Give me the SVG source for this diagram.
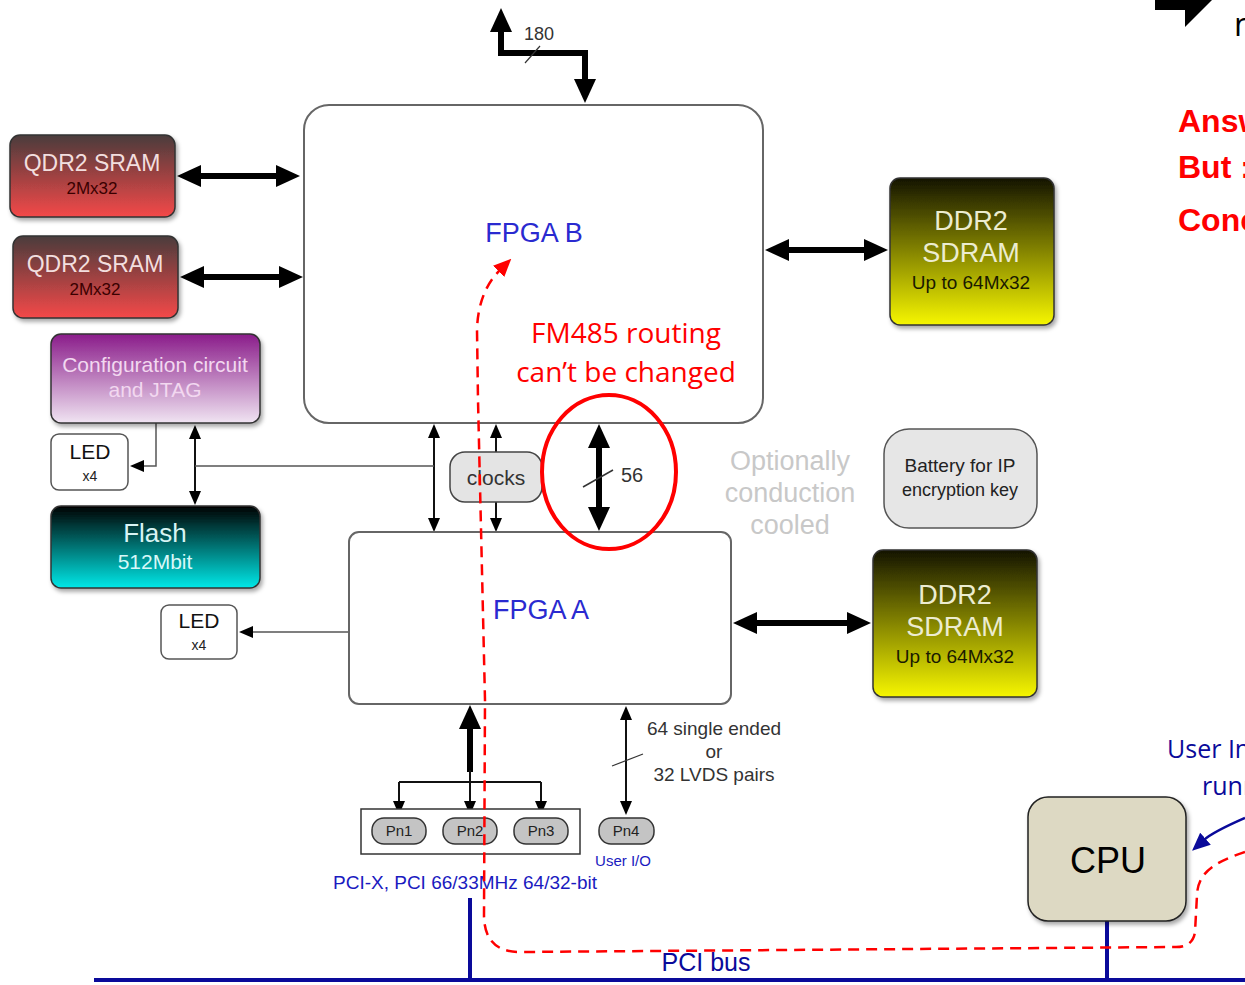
<svg xmlns="http://www.w3.org/2000/svg" width="1245" height="985" viewBox="0 0 1245 985">
<defs>
<linearGradient id="gQdr" x1="0" y1="0" x2="0" y2="1"><stop offset="0" stop-color="#4a3c3c"/><stop offset="1" stop-color="#f44848"/></linearGradient>
<linearGradient id="gCfg" x1="0" y1="0" x2="0" y2="1"><stop offset="0" stop-color="#8a1c8a"/><stop offset="1" stop-color="#f0e4f2"/></linearGradient>
<linearGradient id="gFlash" x1="0" y1="0" x2="0" y2="1"><stop offset="0" stop-color="#000000"/><stop offset="1" stop-color="#00e8e8"/></linearGradient>
<linearGradient id="gDdr" x1="0" y1="0" x2="0" y2="1"><stop offset="0" stop-color="#141400"/><stop offset="1" stop-color="#f6f600"/></linearGradient>
<filter id="sh" x="-10%" y="-10%" width="130%" height="130%"><feDropShadow dx="2" dy="3" stdDeviation="2" flood-color="#000" flood-opacity="0.35"/></filter>
<marker id="big" markerUnits="userSpaceOnUse" markerWidth="26" markerHeight="22" refX="2" refY="11" orient="auto-start-reverse"><path d="M0,0 L24,11 L0,22 z" fill="#000"/></marker>
<marker id="sm" markerUnits="userSpaceOnUse" markerWidth="14" markerHeight="12" refX="2" refY="6" orient="auto-start-reverse"><path d="M0,0 L14,6 L0,12 z" fill="#000"/></marker>
<marker id="red" markerUnits="userSpaceOnUse" markerWidth="18" markerHeight="16" refX="2" refY="8" orient="auto"><path d="M0,0 L18,8 L0,16 z" fill="#ff0000"/></marker>
<marker id="blue" markerUnits="userSpaceOnUse" markerWidth="18" markerHeight="16" refX="2" refY="8" orient="auto"><path d="M0,0 L18,8 L0,16 z" fill="#0a0a9a"/></marker>
<style>
text{font-family:"Liberation Sans",Arial,sans-serif;text-anchor:middle}
.fpga{fill:#fff;stroke:#666;stroke-width:2}
.blk{stroke:#333;stroke-width:1.5}
.thick{stroke:#000;stroke-width:6;fill:none}
.thin{stroke:#111;stroke-width:2;fill:none}
.gline{stroke:#555;stroke-width:1.5;fill:none}
.lt{fill:#f2dede;font-size:23px}
.dk{fill:#3a0000;font-size:17px}
.ledt{fill:#111;font-size:21px}
.small{fill:#222;font-size:14px}
.pn{fill:#c4c4c4;stroke:#333;stroke-width:1.5}
.pnt{fill:#222;font-size:15px}
.ann{fill:#ff0000;font-size:28px;font-family:"Open Sans","Liberation Sans",sans-serif}
.fp{fill:#2a2ad0;font-size:27px}
.bl{fill:#1a1ac0}
.gray{fill:#c8c8c8;font-size:27px}
.ddr1{fill:#ececd0;font-size:27px}
.ddr2{fill:#1a1a00;font-size:19px}
.bus{stroke:#0a0a9a;stroke-width:4;fill:none}
.rd{fill:#ff0000;font-size:32px;font-weight:bold;text-anchor:start}
.st{text-anchor:start;font-family:"Open Sans","Liberation Sans",sans-serif}
</style>
</defs>

<g id="connectors">
<path class="thick" d="M501,30 L501,53 L585,53 L585,81" marker-start="url(#big)" marker-end="url(#big)"/>
<line x1="525" y1="63" x2="540" y2="46" stroke="#333" stroke-width="1.2"/>
<line class="thick" x1="199" y1="176" x2="278" y2="176" marker-start="url(#big)" marker-end="url(#big)"/>
<line class="thick" x1="202" y1="277" x2="281" y2="277" marker-start="url(#big)" marker-end="url(#big)"/>
<line class="thick" x1="787" y1="250" x2="866" y2="250" marker-start="url(#big)" marker-end="url(#big)"/>
<line class="thick" x1="755" y1="623" x2="849" y2="623" marker-start="url(#big)" marker-end="url(#big)"/>
<line class="thick" x1="599" y1="446" x2="599" y2="509" marker-start="url(#big)" marker-end="url(#big)"/>
<line x1="583" y1="487" x2="613" y2="470" stroke="#333" stroke-width="1.5"/>
<line class="thin" x1="434" y1="436" x2="434" y2="520" marker-start="url(#sm)" marker-end="url(#sm)"/>
<path class="thin" d="M496,452 L496,436" marker-end="url(#sm)"/>
<path class="thin" d="M496,502 L496,520" marker-end="url(#sm)"/>
<line class="thin" x1="195" y1="437" x2="195" y2="493" marker-start="url(#sm)" marker-end="url(#sm)"/>
<line class="gline" x1="195" y1="466" x2="434" y2="466"/>
<path class="gline" d="M156,423 L156,466 L142,466" marker-end="url(#sm)"/>
<path class="gline" d="M349,632 L251,632" marker-end="url(#sm)"/>
<path class="thick" d="M470,772 L470,727" marker-end="url(#big)"/>
<path class="thin" d="M470,770 L470,803" marker-end="url(#sm)"/>
<path class="thin" d="M399,782 L541,782"/>
<path class="thin" d="M399,782 L399,803" marker-end="url(#sm)"/>
<path class="thin" d="M541,782 L541,803" marker-end="url(#sm)"/>
<line class="thin" x1="626" y1="718" x2="626" y2="803" marker-start="url(#sm)" marker-end="url(#sm)"/>
<line x1="612" y1="766" x2="643" y2="754" stroke="#333" stroke-width="1.2"/>
<line class="bus" x1="94" y1="980" x2="1245" y2="980"/>
<line class="bus" x1="470" y1="898" x2="470" y2="980"/>
<line class="bus" x1="1107" y1="921" x2="1107" y2="980"/>
<path d="M1245,818 Q1213,832 1204,840" stroke="#0a0a9a" stroke-width="2.5" fill="none" marker-end="url(#blue)"/>
</g>

<g id="fpgaB"><rect class="fpga" x="304" y="105" width="459" height="318" rx="25"/><text class="fp" x="534" y="242">FPGA B</text></g>
<g id="fpgaA"><rect class="fpga" x="349" y="532" width="382" height="172" rx="10"/><text class="fp" x="541" y="619" font-size="29">FPGA A</text></g>

<g id="qdr1"><rect class="blk" x="10" y="135" width="165" height="82" rx="10" fill="url(#gQdr)" filter="url(#sh)"/><text class="lt" x="92" y="171">QDR2 SRAM</text><text class="dk" x="92" y="194">2Mx32</text></g>
<g id="qdr2"><rect class="blk" x="13" y="236" width="165" height="82" rx="10" fill="url(#gQdr)" filter="url(#sh)"/><text class="lt" x="95" y="272">QDR2 SRAM</text><text class="dk" x="95" y="295">2Mx32</text></g>
<g id="config"><rect class="blk" x="51" y="334" width="209" height="89" rx="10" fill="url(#gCfg)" filter="url(#sh)"/><text x="155" y="372" fill="#f2d8f0" font-size="21">Configuration circuit</text><text x="155" y="397" fill="#f2d8f0" font-size="21">and JTAG</text></g>
<g id="led1"><rect x="51" y="434" width="77" height="56" rx="8" fill="#fff" stroke="#555" stroke-width="1.5"/><text class="ledt" x="90" y="459">LED</text><text class="small" x="90" y="481">x4</text></g>
<g id="flash"><rect class="blk" x="51" y="506" width="209" height="82" rx="10" fill="url(#gFlash)" filter="url(#sh)"/><text x="155" y="542" fill="#d8f4f4" font-size="26">Flash</text><text x="155" y="569" fill="#d8f8f8" font-size="21">512Mbit</text></g>
<g id="led2"><rect x="161" y="605" width="76" height="54" rx="8" fill="#fff" stroke="#555" stroke-width="1.5"/><text class="ledt" x="199" y="628">LED</text><text class="small" x="199" y="650">x4</text></g>
<g id="clocks"><rect x="450" y="452" width="92" height="50" rx="15" fill="#e4e4e4" stroke="#444" stroke-width="1.5"/><text x="496" y="485" fill="#333" font-size="21">clocks</text></g>
<text x="632" y="482" fill="#333" font-size="20">56</text>
<text x="539" y="40" fill="#333" font-size="18">180</text>
<g id="ddrTop"><rect class="blk" x="890" y="178" width="164" height="147" rx="10" fill="url(#gDdr)" filter="url(#sh)"/><text class="ddr1" x="971" y="230">DDR2</text><text class="ddr1" x="971" y="262">SDRAM</text><text class="ddr2" x="971" y="289">Up to 64Mx32</text></g>
<g id="ddrBot"><rect class="blk" x="873" y="550" width="164" height="147" rx="10" fill="url(#gDdr)" filter="url(#sh)"/><text class="ddr1" x="955" y="604">DDR2</text><text class="ddr1" x="955" y="636">SDRAM</text><text class="ddr2" x="955" y="663">Up to 64Mx32</text></g>
<g id="cooled"><text class="gray" x="790" y="470">Optionally</text><text class="gray" x="790" y="502">conduction</text><text class="gray" x="790" y="534">cooled</text></g>
<g id="battery"><rect x="884" y="429" width="153" height="99" rx="25" fill="#e6e6e6" stroke="#555" stroke-width="1.5"/><text x="960" y="472" fill="#222" font-size="19">Battery for IP</text><text x="960" y="496" fill="#222" font-size="18">encryption key</text></g>
<g id="pnGroup"><rect x="361" y="809" width="219" height="45" fill="#fff" stroke="#333" stroke-width="1.5"/>
<rect class="pn" x="372" y="818" width="54" height="26" rx="12"/><text class="pnt" x="399" y="836">Pn1</text>
<rect class="pn" x="443" y="818" width="54" height="26" rx="12"/><text class="pnt" x="470" y="836">Pn2</text>
<rect class="pn" x="514" y="818" width="54" height="26" rx="12"/><text class="pnt" x="541" y="836">Pn3</text></g>
<g id="pn4"><rect class="pn" x="599" y="818" width="55" height="26" rx="12"/><text class="pnt" x="626" y="836">Pn4</text></g>
<g id="userio"><text x="714" y="735" fill="#333" font-size="19">64 single ended</text><text x="714" y="758" fill="#333" font-size="19">or</text><text x="714" y="781" fill="#333" font-size="19">32 LVDS pairs</text></g>
<text class="bl" x="623" y="866" font-size="15">User I/O</text>
<text class="bl" x="465" y="889" font-size="19">PCI-X, PCI 66/33MHz 64/32-bit</text>
<g id="cpu"><rect x="1028" y="797" width="158" height="124" rx="20" fill="#ddd9c3" stroke="#222" stroke-width="1.5" filter="url(#sh)"/><text x="1108" y="873" fill="#000" font-size="36" font-family="Open Sans,Liberation Sans,sans-serif">CPU</text></g>
<text x="706" y="971" fill="#0a0a9a" font-size="25" font-family="Open Sans,Liberation Sans,sans-serif">PCI bus</text>
<text class="st" x="1167" y="758" fill="#0a0a9a" font-size="25">User In</text>
<text class="st" x="1202" y="795" fill="#0a0a9a" font-size="25">runn</text>

<g id="annotation">
<path d="M1245,852 C1215,862 1198,872 1197,895 L1195,932 Q1193,947 1176,947 L520,952 Q484,952 484,915 L485,700 L478,400 L477,330 Q478,292 500,270" stroke="#ff0000" stroke-width="2.5" stroke-dasharray="11,7" fill="none" marker-end="url(#red)"/>
<ellipse cx="609" cy="472" rx="67" ry="77" fill="none" stroke="#ff0000" stroke-width="4"/>
<text class="ann" x="626" y="343">FM485 routing</text>
<text class="ann" x="626" y="382">can’t be changed</text>
</g>

<g id="topright">
<polygon points="1155,0 1212,0 1185,27 1185,10 1155,10" fill="#000"/>
<text class="st" x="1234" y="36" fill="#000" font-size="32">n</text>
<text class="rd" x="1178" y="132">Answ</text>
<text class="rd" x="1178" y="178">But :</text>
<text class="rd" x="1178" y="231">Conc</text>
</g>
</svg>
